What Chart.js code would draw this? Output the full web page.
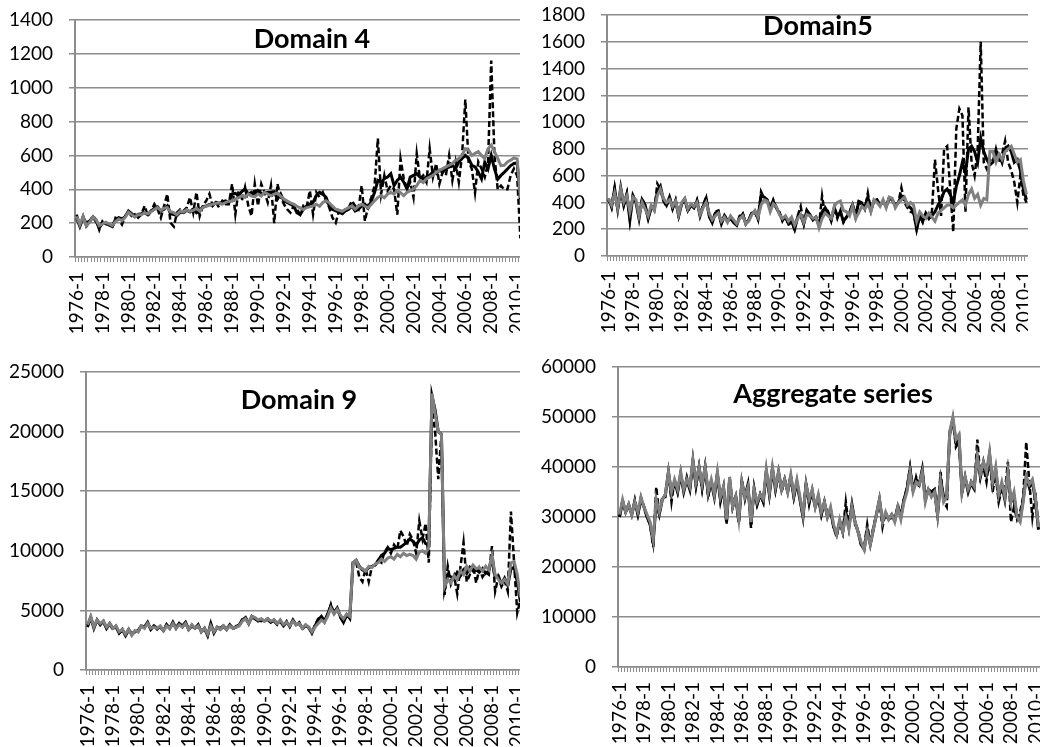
<!DOCTYPE html>
<html>
<head>
<meta charset="utf-8">
<script src="https://cdn.jsdelivr.net/npm/chart.js@4"></script>
<style>
body { margin: 0; background: #fff; }
#wrap { position: relative; width: 1040px; height: 747px; overflow: hidden; background: #fff; }
.clip { position: absolute; overflow: hidden; }
canvas { position: absolute; left: 0; top: 0; }
</style>
</head>
<body>
<div id="wrap">
  <div class="clip" style="left:0;top:0;width:520px;height:345px"><canvas id="c4" width="522" height="345"></canvas></div>
  <div class="clip" style="left:520px;top:0;width:520px;height:345px"><canvas id="c5" width="508" height="345"></canvas></div>
  <div class="clip" style="left:0;top:355px;width:520px;height:392px"><canvas id="c9" width="522" height="392"></canvas></div>
  <div class="clip" style="left:520px;top:355px;width:520px;height:392px"><canvas id="cAgg" width="520" height="392"></canvas></div>
</div>
<script>
// quarters 1976-1 .. 2010-2
const firstYear = 1976, lastYear = 2010, lastQuarter = 2;
const quarters = [];
for (let y = firstYear; y <= lastYear; y++) {
  for (let q = 1; q <= 4; q++) {
    if (y === lastYear && q > lastQuarter) break;
    quarters.push(y + '-' + q);
  }
}
const tickLabels = ['1976-1','1978-1','1980-1','1982-1','1984-1','1986-1','1988-1','1990-1','1992-1',
  '1994-1','1996-1','1998-1','2000-1','2002-1','2004-1','2006-1','2008-1','2010-1'];

// ---- Domain 4 ----
const d4Gray = [
  240,190,240,185, 205,235,220,185, 195,205,195,185, 210,225,215,235,
  265,250,235,250, 250,262,255,268, 280,292,275,288, 292,268,262,250,
  272,266,280,270, 275,288,272,292, 300,306,312,316, 320,312,322,330,
  330,342,350,362, 352,372,360,356, 372,360,382,372, 362,372,378,360,
  342,330,320,312, 300,290,280,292, 296,302,312,300, 322,332,320,300,
  282,276,270,282, 292,302,282,300, 312,300,290,312, 332,352,362,350,
  372,382,372,392, 380,362,382,392, 402,422,452,440, 462,472,482,500,
  512,522,532,542, 552,572,582,602, 640,632,600,612, 622,600,582,640,
  662,622,582,540, 542,562,572,585, 580,350
];
const d4Black = [
  230,180,232,200, 212,236,210,172, 202,196,190,180, 222,232,225,238,
  272,256,240,252, 256,262,250,272, 286,296,272,282, 302,256,250,245,
  265,262,276,266, 282,262,276,296, 302,310,306,322, 316,326,332,322,
  372,376,362,386, 402,372,382,362, 392,372,376,382, 382,386,342,372,
  332,322,312,302, 262,250,282,302, 312,322,362,382, 372,352,302,282,
  272,266,256,272, 282,302,272,282, 302,312,290,332, 382,452,442,462,
  472,492,422,452, 472,442,402,472, 482,492,472,462, 472,482,502,492,
  512,502,522,532, 542,522,562,582, 600,582,542,532, 502,462,560,520,
  600,520,460,482, 500,520,540,552, 555,340
];
const d4Dashed = [
  250,190,242,180, 202,242,222,160, 212,202,190,172, 232,222,192,242,
  262,242,252,232, 252,302,242,272, 312,282,232,302, 372,202,180,262,
  282,272,292,352, 262,382,242,302, 332,372,302,322, 292,332,312,312,
  432,252,392,332, 412,302,242,432, 302,432,382,322, 422,200,432,352,
  312,282,262,302, 282,252,302,292, 392,252,382,352, 382,332,292,232,
  202,272,252,282, 292,332,302,282, 422,212,302,352, 422,700,372,482,
  392,422,402,250, 580,462,402,442, 352,610,462,482, 442,640,472,552,
  432,502,482,600, 452,562,442,602, 930,562,522,380, 562,522,472,552,
  1160,600,400,422, 400,400,482,522, 480,110
];

// ---- Domain5 ----
const d5Gray = [
  430,380,470,360, 500,400,450,330, 440,420,300,400, 350,300,380,340,
  450,500,430,400, 420,370,410,310, 400,430,350,390, 370,400,310,360,
  400,320,270,300, 320,260,290,250, 300,270,240,280, 300,240,260,310,
  340,290,380,420, 410,330,390,370, 310,280,300,260, 290,230,280,310,
  250,310,300,280, 290,210,280,320, 300,280,370,400, 410,340,330,300,
  370,280,320,370, 350,390,330,420, 400,370,420,360, 440,430,360,400,
  420,440,380,400, 380,260,330,300, 280,320,290,260, 320,340,360,380,
  380,360,380,400, 420,380,460,500, 430,460,380,430, 420,780,780,700,
  760,720,780,800, 820,760,700,720, 560,460
];
const d5Black = [
  420,370,500,350, 510,380,460,270, 450,400,280,420, 380,280,360,350,
  480,520,420,380, 440,360,410,300, 390,420,340,380, 360,410,300,370,
  430,300,250,320, 330,240,300,260, 280,250,230,290, 310,240,270,320,
  330,280,450,440, 420,350,410,360, 320,270,290,240, 260,200,290,300,
  240,340,310,270, 290,230,330,360, 320,270,360,300, 330,260,290,320,
  380,300,400,390, 360,440,340,410, 420,380,410,370, 430,420,380,400,
  450,430,380,360, 330,200,300,260, 320,280,300,330, 380,420,480,500,
  460,400,520,600, 700,620,800,820, 780,700,880,780, 720,680,700,780,
  760,700,800,820, 780,700,720,640, 500,420
];
const d5Dashed = [
  430,360,510,340, 500,380,470,270, 450,410,290,430, 370,280,370,340,
  540,500,410,370, 440,350,420,300, 400,430,330,380, 360,420,310,380,
  440,290,250,330, 340,240,310,260, 290,250,230,300, 320,240,270,330,
  330,270,480,430, 420,350,420,360, 330,260,300,230, 260,200,300,370,
  240,340,300,270, 290,230,450,300, 330,260,360,280, 340,250,290,330,
  390,290,410,400, 350,470,340,410, 420,380,410,370, 440,420,370,400,
  510,400,360,330, 320,200,300,250, 320,280,330,720, 500,300,800,820,
  500,180,950,1100, 1050,330,1110,700, 600,800,1600,700, 650,720,700,800,
  700,760,860,700, 640,550,400,600, 450,400
];

// ---- Domain 9 ----
const d9Gray = [
  3800,4500,3600,4200, 3900,4100,3600,3900, 3500,3700,3200,3400, 3000,3400,2900,3300,
  3200,3700,3500,3900, 3500,3600,3500,3700, 3300,3700,3500,3900, 3500,3800,3600,3900,
  3400,3800,3500,3700, 3200,3500,3000,3700, 3200,3600,3400,3700, 3400,3700,3500,3600,
  3700,4100,4300,3900, 4500,4400,4200,4300, 4100,4300,4100,4200, 3900,4200,3800,4000,
  3700,4100,3800,3900, 3500,3800,3600,3200, 3600,3900,4200,4000, 4500,5200,4700,5100,
  4600,4300,4700,4500, 9000,9200,8600,8500, 8300,8700,8600,8900, 9000,9300,9100,9400,
  9500,9300,9700,9500, 9800,9600,9700,9600, 9300,9900,10000,9800, 10300,23200,21500,20000,
  19800,7000,7600,7300, 7900,7600,8300,8000, 8700,8300,8800,8500, 8600,8300,8700,8400,
  9600,8000,7600,7300, 7600,7200,9000,9100, 8000,6100
];
const d9Black = [
  3700,4400,3500,4200, 3800,4100,3500,3900, 3500,3600,3100,3400, 2900,3400,3000,3200,
  3300,3700,3600,4000, 3400,3700,3500,3600, 3300,3800,3500,4000, 3500,3900,3700,4000,
  3400,3700,3500,3800, 3200,3500,2900,3900, 3100,3600,3500,3700, 3400,3800,3500,3600,
  3800,4200,4400,3900, 4500,4300,4100,4200, 4100,4300,4000,4200, 3900,4100,3700,4000,
  3700,4200,3800,3900, 3500,3700,3600,3100, 3700,4200,4500,4100, 4700,5400,4800,5200,
  4500,4000,4600,4400, 9000,9200,8700,8400, 8300,8600,8700,8800, 9200,9600,9800,10200,
  10100,10200,10300,10300, 10500,10700,11000,10800, 10500,10900,11100,10600, 10500,23000,21800,20000,
  19800,6800,8000,7800, 7700,8200,7900,8400, 8100,8600,8300,8400, 8200,8500,8100,8300,
  9400,7800,7900,7200, 7700,7100,8500,8600, 7400,5700
];
const d9Dashed = [
  3600,4400,3600,4100, 3900,4000,3500,3800, 3400,3700,3100,3300, 2900,3300,3000,3300,
  3200,3600,3600,3900, 3500,3700,3400,3700, 3300,3800,3500,3900, 3600,3900,3600,4000,
  3400,3800,3400,3700, 3300,3400,2900,3800, 3200,3500,3400,3600, 3500,3700,3400,3700,
  3700,4300,4300,3900, 4400,4300,4200,4100, 4200,4200,4000,4100, 3800,4200,3700,4100,
  3600,4100,3800,4000, 3400,3800,3500,3100, 3800,4300,4400,4000, 4600,5500,4600,5300,
  4400,4000,4700,4300, 9000,9100,7800,7400, 8500,7400,8700,8800, 9200,9000,9900,10300,
  9800,10500,10100,11700, 11200,10400,11400,10900, 9800,12500,11000,12300, 9000,22000,20000,16000,
  19800,6300,8700,7200, 7900,6400,8600,10700, 7400,8000,8800,7300, 8500,7800,8200,8000,
  10400,6600,7800,7000, 7500,6600,13300,9000, 4800,5900
];

// ---- Aggregate series ----
const aggGray = [
  30500,33500,31000,32500, 30500,33000,31000,34000, 32000,30500,29000,25500, 33500,31000,33500,34500,
  39000,35000,37500,35500, 39000,35500,37500,36000, 41500,37000,40000,36500, 40000,35000,37500,34500,
  39000,34000,36000,29500, 38000,32000,34000,29500, 37000,34000,36000,29000, 35500,33000,34500,33500,
  39500,35000,40000,36000, 39000,35500,37500,35000, 38500,34500,37500,34000, 30500,36500,33500,35500,
  32000,34500,31000,33000, 30000,32000,28500,26500, 29500,27000,30000,27500, 32000,29000,27000,25000,
  23500,27000,24500,27500, 30500,33500,29000,31000, 29500,30500,29000,32000, 29500,33000,35000,39000,
  35000,37000,36500,39000, 33000,35500,34000,35000, 30500,37000,33000,34000, 47000,50000,45500,46500,
  35000,38000,35500,37000, 36000,42000,38500,41000, 39000,43000,37000,40000, 34500,37000,34000,39000,
  33000,35000,30000,29000, 33000,38000,36500,37500, 34000,28000
];
const aggBlack = [
  30000,33000,31000,32500, 30500,33000,30500,33500, 32000,30000,28500,25000, 33000,30500,33500,34500,
  39000,34500,37000,35000, 38500,35000,37500,35500, 41000,36500,40000,36000, 40000,34500,37000,34000,
  38500,33500,36000,29000, 37500,32000,34000,29000, 37000,34000,36500,28500, 35500,32500,34500,33000,
  39000,34500,39500,35500, 39000,35500,37500,35000, 38000,34000,37000,33500, 30000,36500,33000,35000,
  32000,34000,30500,33000, 30000,31500,28000,26500, 29000,27000,31000,28000, 32500,29000,27000,24500,
  23500,27500,24500,27500, 30500,33500,29000,30500, 29500,30500,29500,32000, 30000,33500,35500,39500,
  35500,37500,36500,39500, 33500,35500,35000,35500, 30500,37500,34000,34000, 47000,49500,45000,46000,
  35000,38000,35000,37000, 36000,42000,38000,41000, 38500,42500,36500,39500, 34000,36500,33500,39000,
  33000,34000,30000,29500, 33500,38000,36000,37000, 33500,27500
];
const aggDashed = [
  30000,33500,31000,32000, 30500,33500,30500,34000, 32000,30000,28500,24000, 36000,30500,34000,34000,
  39000,33000,37500,35000, 39000,35000,38000,35500, 41500,36000,40000,35500, 40000,34000,37500,34000,
  39000,33000,36000,28500, 38000,32000,34500,29000, 37500,33500,36500,27800, 36000,32500,34500,33000,
  39500,34500,40000,35500, 38500,35000,37500,35000, 38500,34000,37000,33500, 30000,37000,32500,35500,
  32000,34000,30500,33000, 30500,31500,28000,26000, 29500,27000,33000,28000, 32500,28500,27500,24500,
  24000,28500,24500,28000, 30500,33000,28000,31000, 29500,30000,29000,32500, 30000,33500,36000,40000,
  35000,38000,36000,39500, 34000,35500,35000,35000, 30000,39000,33000,32000, 46500,49500,44000,45000,
  35000,37000,35500,36500, 35500,45500,38000,40000, 37000,42000,35000,38500, 33000,35500,35000,41000,
  29000,32000,29500,31000, 34000,45000,37000,30000, 35000,27500
];

const AXIS_GREY = '#8c8c8c';
const tickFont = { family: 'Lato', size: 19 };

const panelTitle = {
  id: 'panelTitle',
  afterDraw(chart, args, opts) {
    const ctx = chart.ctx;
    ctx.save();
    ctx.font = 'bold 27px Lato';
    ctx.fillStyle = '#000';
    ctx.textAlign = 'center';
    ctx.textBaseline = 'alphabetic';
    ctx.fillText(opts.text, opts.x, opts.y);
    ctx.restore();
  }
};

function makeChart(id, title, titleX, titleY, yMax, yStep, gray, black, dashed, area) {
  const canvas = document.getElementById(id);
  return new Chart(canvas, {
    type: 'line',
    data: {
      labels: quarters,
      datasets: [
        { data: gray, borderColor: '#808080', borderWidth: 3, order: 0 },
        { data: black, borderColor: '#000', borderWidth: 3, order: 1 },
        { data: dashed, borderColor: '#000', borderWidth: 2.5, borderDash: [6, 3], order: 2 }
      ]
    },
    options: {
      responsive: false,
      animation: false,
      devicePixelRatio: 1,
      elements: { point: { radius: 0 }, line: { tension: 0, borderCapStyle: 'butt' } },
      layout: { padding: { top: area.top, left: 0, right: 0, bottom: 0 } },
      plugins: {
        legend: { display: false },
        tooltip: { enabled: false },
        panelTitle: { text: title, x: titleX, y: titleY }
      },
      scales: {
        x: {
          offset: true,
          grid: { display: true, drawOnChartArea: false, offset: true, tickLength: 5, color: AXIS_GREY, lineWidth: 1 },
          border: { display: true, color: AXIS_GREY, width: 1.5 },
          ticks: {
            autoSkip: false, minRotation: 90, maxRotation: 90, padding: 10,
            color: '#000', font: tickFont,
            callback: function (v, i) { return tickLabels.includes(quarters[i]) ? quarters[i] : ''; }
          },
          afterFit: function (s) {
            s.height = canvas.height - area.bottom;
            s.paddingLeft = 0; s.paddingRight = 0;
          }
        },
        y: {
          min: 0, max: yMax,
          ticks: { stepSize: yStep, autoSkip: false, color: '#000', padding: 16, font: tickFont,
            callback: function (v) { return String(v); } },
          grid: { color: AXIS_GREY, lineWidth: 1.5, tickLength: 6 },
          border: { display: true, color: AXIS_GREY, width: 2 },
          afterFit: function (s) {
            s.width = area.left;
            s.paddingTop = 0; s.paddingBottom = 0;
          }
        }
      }
    },
    plugins: [panelTitle]
  });
}

function drawAll() {
  makeChart('c4', 'Domain 4', 312, 48, 1400, 200, d4Gray, d4Black, d4Dashed, { left: 75, top: 20, bottom: 257 });
  makeChart('c5', 'Domain5', 298, 35, 1800, 200, d5Gray, d5Black, d5Dashed, { left: 87, top: 15, bottom: 256 });
  makeChart('c9', 'Domain 9', 299, 54, 25000, 5000, d9Gray, d9Black, d9Dashed, { left: 86, top: 17, bottom: 315 });
  makeChart('cAgg', 'Aggregate series', 313, 48, 60000, 10000, aggGray, aggBlack, aggDashed, { left: 98, top: 12, bottom: 312 });
}

Promise.all([
  document.fonts.load('19px Lato'),
  document.fonts.load('bold 27px Lato')
]).then(drawAll, drawAll);
</script>
</body>
</html>
